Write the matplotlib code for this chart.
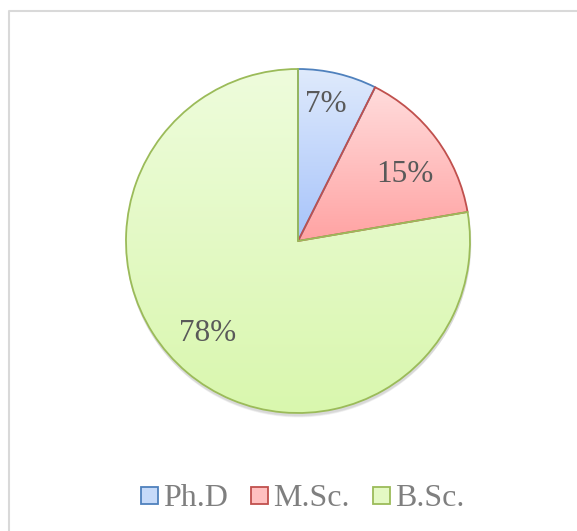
import numpy as np
import matplotlib
matplotlib.use("Agg")
import matplotlib.pyplot as plt
from matplotlib.patches import Patch, Circle
from matplotlib.colors import to_rgb

categories = ["Ph.D", "M.Sc.", "B.Sc."]
values = [7.4, 14.9, 77.7]
top_colors = ["#dfeafc", "#ffdcdc", "#eefcdc"]
bottom_colors = ["#a6c3fa", "#ffa3a3", "#d9f7ae"]
edge_colors = ["#4f81bd", "#c0504d", "#9bbb59"]
# label placement tweaks (radial fraction, angular shift in degrees)
label_radius = [0.81, 0.73, 0.75]
label_shift = [1.7, -4.7, -4.2]

plt.rcParams['font.family'] = ['Liberation Serif', 'DejaVu Serif']

W, H = 577, 531
fig = plt.figure(figsize=(W / 100, H / 100), dpi=100)
ax = fig.add_axes([0, 0, 1, 1])
ax.set_xlim(0, W)
ax.set_ylim(0, H)
ax.set_aspect('equal')
ax.axis('off')

cx, cy, R = 298, H - 241, 172

# frame
ax.plot([9, 9, W + 5], [-5, H - 11, H - 11], color="#d9d9d9", lw=1.5, solid_capstyle='butt')

# subtle shadow
for i, a in enumerate([0.04, 0.04, 0.04, 0.04]):
    ax.add_patch(Circle((cx + 0.5, cy - 2 - i * 0.8), R + 1.0 - i * 0.3, color="black", alpha=a, lw=0, zorder=1))

wedges, texts, autotexts = ax.pie(
    values, center=(cx, cy), radius=R, startangle=90, counterclock=False,
    autopct=lambda p: f"{p:.0f}%", pctdistance=0.77, frame=True,
    wedgeprops=dict(linewidth=1.3), textprops=dict(fontsize=22.5, color="#595959"))
ax.set_xlim(0, W)
ax.set_ylim(0, H)
ax.axis('off')

for w, tc, bc, ec in zip(wedges, top_colors, bottom_colors, edge_colors):
    w.set_facecolor('none')
    w.set_edgecolor(ec)
    w.set_zorder(3)
    ext = w.get_path().get_extents()
    n = 256
    t = np.linspace(0, 1, n)[:, None]
    c0, c1 = np.array(to_rgb(tc)), np.array(to_rgb(bc))
    img = (c0[None, :] * (1 - t) + c1[None, :] * t)[:, None, :]
    im = ax.imshow(img, extent=[ext.x0, ext.x1, ext.y0, ext.y1], origin='upper',
                   aspect='auto', zorder=2, interpolation='bilinear')
    im.set_clip_path(w)

for w, txt, rf, sh in zip(wedges, autotexts, label_radius, label_shift):
    mid = np.deg2rad((w.theta1 + w.theta2) / 2 + sh)
    txt.set_position((cx + rf * R * np.cos(mid), cy + rf * R * np.sin(mid)))
    txt.set_zorder(4)

ax.set_xlim(0, W)
ax.set_ylim(0, H)

handles = [Patch(facecolor=bc, edgecolor=ec, linewidth=1.3, label=c)
           for c, bc, ec in zip(categories, ["#c6daf9", "#ffc0c0", "#e4f9c4"], edge_colors)]
fig.legend(handles=handles, loc='center', bbox_to_anchor=(0.5 + 14 / W, 1 - 499 / H), ncol=3,
           frameon=False, fontsize=23, labelcolor="#7f7f7f", handlelength=0.53,
           handleheight=0.45, handletextpad=0.17, columnspacing=0.72)

fig.savefig("out.png", dpi=100)
